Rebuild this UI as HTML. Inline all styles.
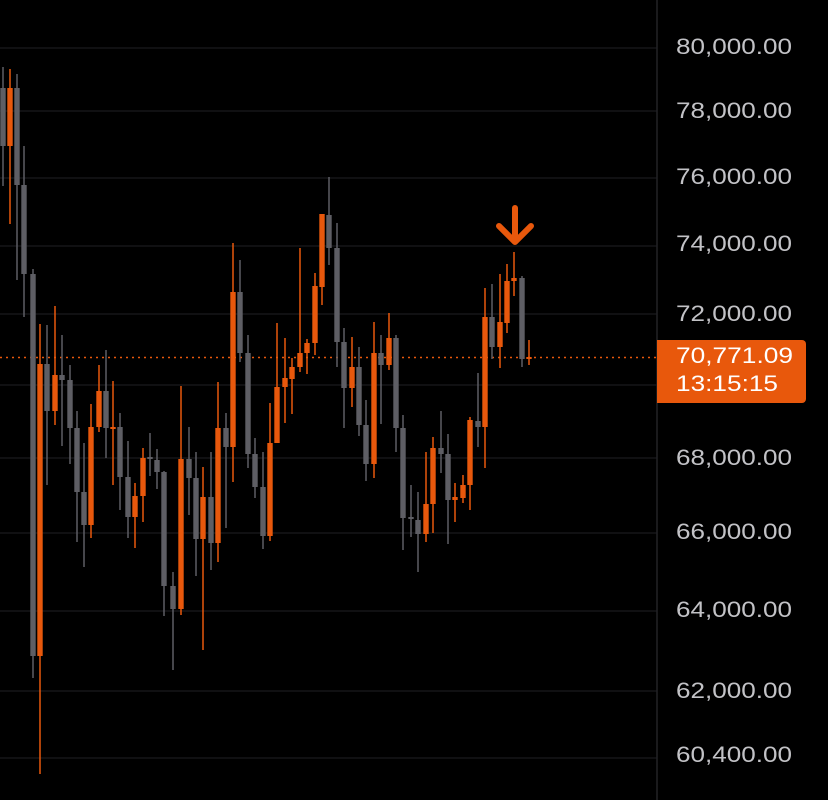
<!DOCTYPE html>
<html><head><meta charset="utf-8"><style>
html,body{margin:0;padding:0;background:#000;width:828px;height:800px;overflow:hidden}
svg{display:block}
</style></head><body>
<svg id="s" width="828" height="800" xmlns="http://www.w3.org/2000/svg" font-family="Liberation Sans, sans-serif">
<rect width="828" height="800" fill="#000"/>
<g id="grid" stroke="#151518" stroke-width="1.5"></g>
<line x1="657" y1="0" x2="657" y2="800" stroke="#222226" stroke-width="1.5"/>
<line x1="0" y1="357.5" x2="657" y2="357.5" stroke="#e8580c" stroke-width="1.5" stroke-dasharray="2,4"/>
<g id="c"></g>
<g id="lab" fill="#c2c2c6" font-size="22"></g>
<path d="M515 208 V242 M499 226 L515 242 L531 226" stroke="#e8580c" stroke-width="6" fill="none" stroke-linecap="round" stroke-linejoin="round"/>
<path d="M657 340 H802 a4 4 0 0 1 4 4 V399 a4 4 0 0 1 -4 4 H657 Z" fill="#e8580c"/>
<text x="676" y="363" fill="#fff" font-size="22" textLength="117" lengthAdjust="spacingAndGlyphs">70,771.09</text>
<text x="676" y="391" fill="#fff" font-size="22" textLength="102" lengthAdjust="spacingAndGlyphs">13:15:15</text>
</svg>
<script>
var NS="http://www.w3.org/2000/svg";
function el(p,t,a,txt){var e=document.createElementNS(NS,t);for(var k in a)e.setAttribute(k,a[k]);if(txt)e.textContent=txt;document.getElementById(p).appendChild(e);}
[48,111,178,246,314,385,458,533,611,691,758].forEach(function(y){el("grid","line",{x1:0,x2:657,y1:y,y2:y});});
[["80,000.00",46],["78,000.00",110],["76,000.00",176],["74,000.00",243],["72,000.00",313],["68,000.00",457],["66,000.00",531],["64,000.00",609],["62,000.00",690],["60,400.00",754]].forEach(function(l){el("lab","text",{x:676,y:l[1]+8,textLength:116,lengthAdjust:"spacingAndGlyphs"},l[0]);});
var C=[
[3,0,67,88,146,186],[10,1,69,88,146,224],[17,0,74,88,185,280],[24,0,146,185,274,317],[33,0,269,274,656,678],[40,1,324,364,656,774],
[47,0,325,364,411,485],[55,1,306,375,411,425],[62,0,335,375,380,446],[70,0,365,380,428,464],[77,0,411,428,492,542],[84,0,443,492,525,567],
[91,1,404,427,525,538],[99,1,365,391,427,432],[106,0,350,391,428,458],[113,1,381,427,428,485],[120,0,413,427,477,510],[128,0,441,477,517,538],
[135,1,483,496,517,548],[143,1,448,458,496,522],[150,0,433,457,458,476],[157,0,449,460,472,489],[164,0,471,472,586,616],[173,0,572,586,609,670],
[181,1,386,459,609,615],[189,0,427,459,478,515],[196,0,452,478,539,576],[203,1,467,497,539,650],[211,0,452,497,543,570],[218,1,382,428,543,562],
[226,0,413,428,447,528],[233,1,243,292,447,482],[240,0,260,292,353,362],[248,0,335,353,454,468],[255,0,438,454,487,498],[263,0,452,487,536,549],
[270,1,403,443,536,541],[277,1,323,387,443,423],[285,1,338,378,387,423],[292,1,358,367,379,414],[300,1,248,353,367,372],[307,1,339,343,353,374],
[315,1,273,286,343,355],[322,1,214,214,287,305],[329,0,177,215,248,265],[337,0,223,248,342,367],[344,0,328,342,388,428],[352,1,337,367,388,407],
[359,0,347,367,425,436],[366,0,400,425,464,481],[374,1,322,353,464,478],[381,0,335,353,365,424],[389,1,313,338,365,370],[396,0,335,338,428,452],
[403,0,415,428,518,550],[411,0,485,517,518,537],[418,0,492,520,534,572],[426,1,452,504,534,542],[433,1,437,448,504,533],[441,0,411,448,454,473],
[448,0,434,454,500,544],[455,1,483,497,500,522],[463,1,475,485,498,503],[470,1,417,420,485,510],[478,0,373,421,427,447],[485,1,288,317,427,468],
[492,0,284,317,347,359],[500,1,274,322,347,368],[507,1,264,281,323,333],[514,1,252,278,281,296],[522,0,276,278,359,367],[529,1,340,357,358,365]];
C.forEach(function(c){var col=c[1]?"#e8580c":"#5e5e64";
el("c","rect",{x:c[0]-0.75,y:c[2],width:1.5,height:c[5]-c[2],fill:col});
el("c","rect",{x:c[0]-2.7,y:c[3],width:5.4,height:Math.max(2,c[4]-c[3]),fill:col});});
</script>
</body></html>
